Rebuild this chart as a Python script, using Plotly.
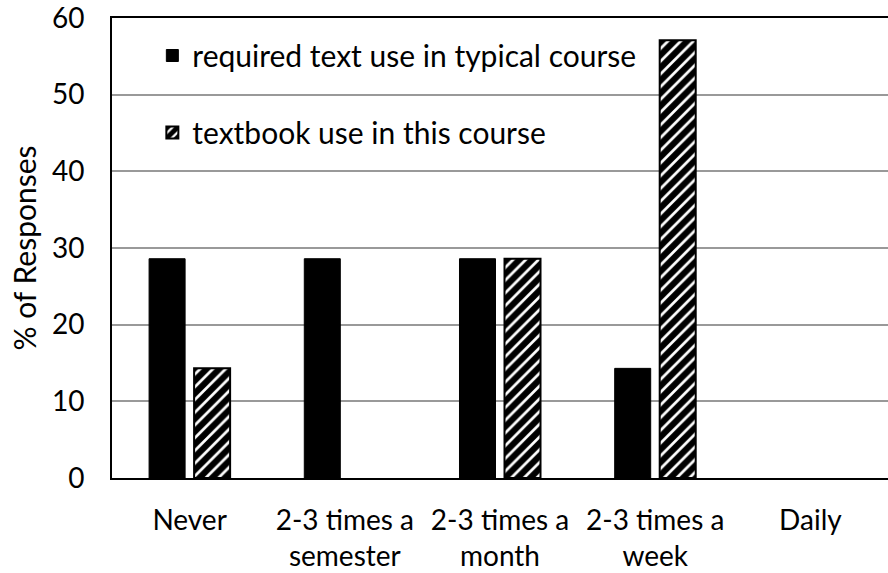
import plotly.graph_objects as go

categories = ["Never", "2-3 times a<br>semester", "2-3 times a<br>month", "2-3 times a<br>week", "Daily"]
typical_course = [28.6, 28.6, 28.6, 14.3, 0]
this_course = [14.3, 0, 28.6, 57.1, 0]
y_ticks = [0, 10, 20, 30, 40, 50, 60]

FONT = "Lato"
FS = 30
TFS = 28

fig = go.Figure()
fig.add_trace(go.Bar(
    x=categories, y=typical_course, name="required text use in typical course",
    legendgroup="a",
    marker=dict(color="black",
                line=dict(color="black", width=[1 if v else 0 for v in typical_course])),
))
fig.add_trace(go.Bar(
    x=categories, y=this_course, name="textbook use in this course",
    legendgroup="b",
    marker=dict(color="white",
                line=dict(color="black", width=[2 if v else 0 for v in this_course]),
                pattern=dict(shape="/", fgcolor="#000000", bgcolor="#ffffff", fgopacity=1,
                             fillmode="replace", size=9, solidity=0.7)),
))

fig.update_layout(
    width=888, height=573,
    margin=dict(l=112, r=0, t=18, b=95),
    paper_bgcolor="white", plot_bgcolor="white",
    font=dict(family=FONT, size=FS, color="black"),
    barmode="group", bargap=0.42, bargroupgap=0.2,
    showlegend=True,
    legend=dict(x=0.052, y=0.975, xanchor="left", yanchor="top",
                bgcolor="rgba(0,0,0,0)", tracegroupgap=35, itemwidth=30,
                font=dict(family=FONT, size=FS, color="black")),
)
fig.update_xaxes(
    showline=True, linecolor="black", linewidth=2, mirror=True, automargin=False,
    ticks="", ticklabelstandoff=16, tickfont=dict(family=FONT, size=TFS),
)
fig.update_yaxes(
    range=[0, 60], tickvals=y_ticks, showgrid=True, gridcolor="#999999", gridwidth=1.5,
    showline=True, linecolor="black", linewidth=2, mirror=True, automargin=False,
    ticks="", ticklabelstandoff=20, ticklabeloverflow="allow",
    tickfont=dict(family=FONT, size=TFS),
    title=dict(text="% of Responses", font=dict(family=FONT, size=FS), standoff=6),
)

fig.write_html("out.html", config={"displayModeBar": False},
               post_script="document.body.style.margin='0';document.body.style.overflow='hidden';")
